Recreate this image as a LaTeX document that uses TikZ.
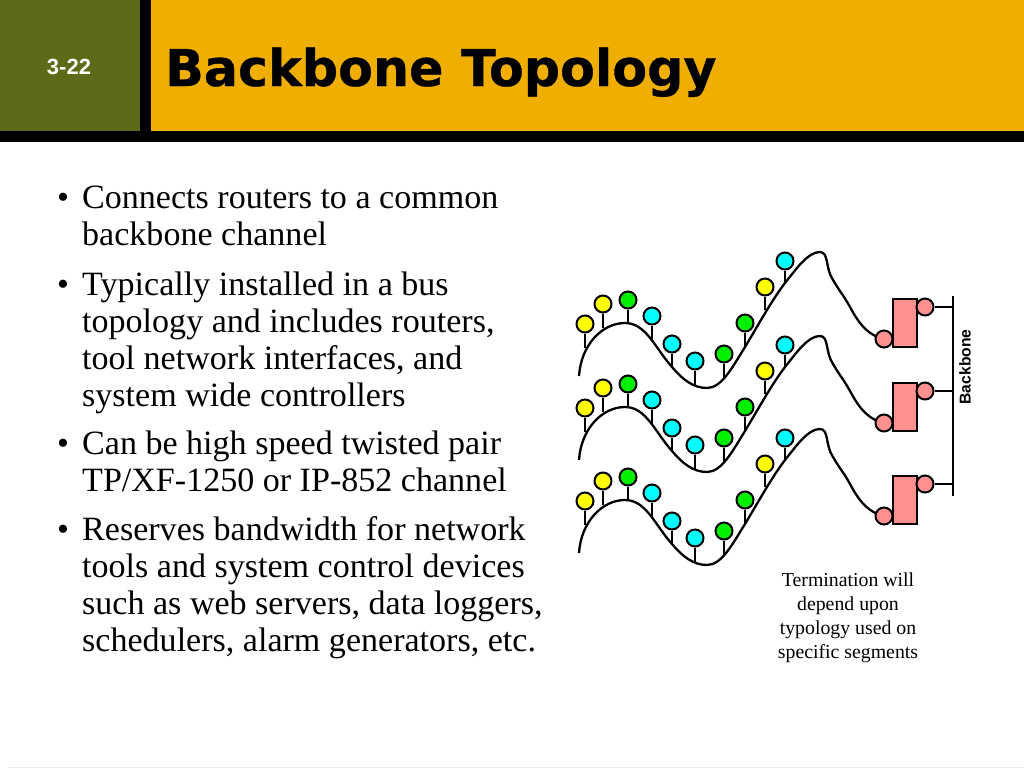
\documentclass[tikz,border=0pt]{standalone}
\usepackage{fontspec}
\setmainfont{Liberation Serif}
\newfontfamily\arialf{Liberation Sans}
\newfontfamily\titlef[FakeBold=0.6]{DejaVu Sans Bold}
\definecolor{hgreen}{HTML}{5C6B17}
\definecolor{hgold}{HTML}{F0AE00}
\definecolor{pyellow}{HTML}{FFFF00}
\definecolor{pgreen}{HTML}{00F000}
\definecolor{pcyan}{HTML}{00FFFF}
\definecolor{ppink}{HTML}{FF9090}
\tikzset{
 wire/.style={draw=black,line width=2.3pt},
 dot/.style={circle,draw=black,line width=2pt,minimum size=17pt,inner sep=0pt,fill=#1},
 routerbox/.style={rectangle,draw=black,line width=2pt,fill=ppink,minimum width=24pt,minimum height=48pt,inner sep=0pt},
 bodytext/.style={anchor=north west,align=left,inner sep=0pt,font=\fontsize{34.05}{36.9}\selectfont},
 bulletmark/.style={anchor=north west,inner sep=0pt,font=\fontsize{34}{36.9}\selectfont},
 captiontext/.style={align=center,inner sep=0pt,font=\fontsize{19.8}{24}\selectfont},
}
\begin{document}
\begin{tikzpicture}[x=1pt,y=-1pt]
\useasboundingbox (0,0) rectangle (1024,768);
\fill[white] (0,0) rectangle (1024,768);
% header
\fill[hgreen] (0,0) rectangle (140,131);
\fill[black] (140,0) rectangle (151,131);
\fill[hgold] (151,0) rectangle (1024,131);
\fill[black] (0,131) rectangle (1024,142);
\fill[black!8] (8,767) rectangle (1024,768);
\node[text=white,inner sep=0pt,font=\arialf\bfseries\fontsize{22}{26}\selectfont] (page) at (69,67) {3-22};
\node[anchor=base west,inner sep=0pt,font=\titlef\fontsize{50.7}{56}\selectfont] (title) at (165,86) {Backbone Topology};
% bullets
\node[bulletmark] (b1) at (57,182.5) {\strut •};
\node[bodytext] (t1) at (82,182.5) {\strut Connects routers to a common\\\strut backbone channel};
\node[bulletmark] (b2) at (57,269.5) {\strut •};
\node[bodytext] (t2) at (82,269.5) {\strut Typically installed in a bus\\\strut topology and includes routers,\\\strut tool network interfaces, and\\\strut system wide controllers};
\node[bulletmark] (b3) at (57,428.5) {\strut •};
\node[bodytext] (t3) at (82,428.5) {\strut Can be high speed twisted pair\\\strut TP/XF-1250 or IP-852 channel};
\node[bulletmark] (b4) at (57,514.5) {\strut •};
\node[bodytext] (t4) at (82,514.5) {\strut Reserves bandwidth for network\\\strut tools and system control devices\\\strut such as web servers, data loggers,\\\strut schedulers, alarm generators, etc.};
% rows
\foreach \r/\dy in {a/0,b/84,c/177}{
 \begin{scope}[shift={(0,\dy)}]
  \coordinate (\r s) at (579,376);
  \coordinate (\r e1) at (585,348);
  \coordinate (\r e2) at (603,328);
  \coordinate (\r e3) at (628,323);
  \coordinate (\r e4) at (652,340);
  \coordinate (\r e5) at (672,367);
  \coordinate (\r e6) at (695,385);
  \coordinate (\r e7) at (724,378);
  \coordinate (\r e8) at (745,347);
  \coordinate (\r e9) at (765,310);
  \coordinate (\r e10) at (785,283);
  \node[routerbox] (\r box) at (905,323) {};
  \draw[wire] (\r s) .. controls (581,345) and (602,323) .. (625,323)
     .. controls (646,323) and (655,348) .. (672,367)
     .. controls (682,379) and (693,388) .. (707,388)
     .. controls (722,388) and (733,366) .. (745,347)
     .. controls (760,322) and (772,300) .. (785,283)
     .. controls (797,268) and (808,252) .. (820,252)
     .. controls (829,252) and (825,268) .. (833,280)
     .. controls (840,292) and (844,296) .. (850,307)
     .. controls (857,320) and (866,335) .. (884,339) coordinate (\r end);
  \node[dot=ppink] (\r in) at (\r end) {};
  \node[dot=ppink] (\r out) at (925,307) {};
  \coordinate (\r tap) at (953,307);
  \foreach \i/\c/\x/\y in {1/pyellow/585/324,2/pyellow/603/304,3/pgreen/628/300,4/pcyan/652/316,5/pcyan/672/344,6/pcyan/695/361,7/pgreen/724/354,8/pgreen/745/323,9/pyellow/765/287,10/pcyan/785/261}{
    \node[dot=\c] (\r n\i) at (\x,\y) {};
    \draw[wire] (\r n\i) -- (\r e\i);
  }
  \draw[wire] (\r out) -- (\r tap);
 \end{scope}
}
\coordinate (bbtop) at (953,296);
\coordinate (bbbot) at (953,496);
\draw[wire] (bbtop) -- (bbbot);
\node[rotate=90,inner sep=0pt,font=\arialf\bfseries\fontsize{15.7}{18}\selectfont] (bblabel) at (965,367) {Backbone};
\node[captiontext] (cap) at (848,618) {Termination will\\depend upon\\typology used on\\specific segments};
\end{tikzpicture}
\end{document}
